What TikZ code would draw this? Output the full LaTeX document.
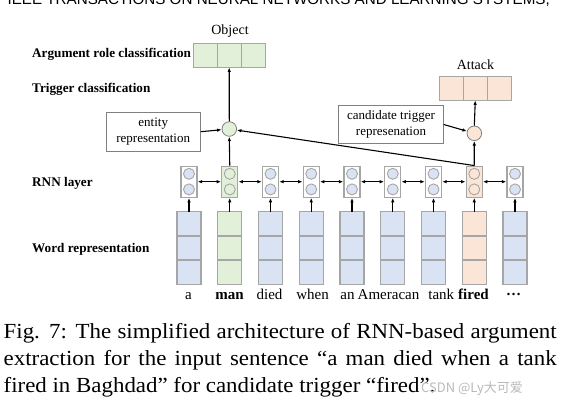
\documentclass[tikz,border=0pt]{standalone}
\usepackage{fontspec}
\setmainfont{Liberation Serif}
\newfontfamily\capfont[FakeStretch=1.065]{Liberation Serif}
\newfontfamily\headfont{Liberation Sans}
\newfontfamily\cjkfont{Noto Sans CJK SC}
\usetikzlibrary{positioning,arrows.meta,calc}
\definecolor{wordBlue}{HTML}{DAE3F3}
\definecolor{argGreen}{HTML}{E2F0D9}
\definecolor{trigOrange}{HTML}{FBE5D6}
\definecolor{cellEdge}{HTML}{A6A6A6}
\newcommand{\moredots}{\raisebox{3.5pt}{\textbf{…}}}

\begin{document}
\begin{tikzpicture}[x=1pt, y=-1pt,
    vec/.style={draw=cellEdge, line width=1.3pt, minimum width=24pt, minimum height=24.2pt, inner sep=0pt, outer sep=0pt},
    rnn/.style={draw=cellEdge, line width=1.3pt, minimum width=16pt, minimum height=31pt, inner sep=0pt},
    unit/.style={circle, draw=cellEdge, line width=0.9pt, minimum size=11pt, inner sep=0pt},
    merge/.style={circle, draw=gray, line width=0.8pt, minimum size=14.6pt, inner sep=0pt},
    repr/.style={draw=gray, line width=0.8pt, align=center, inner sep=0pt, font=\fontsize{13}{15.5}\selectfont},
    layer/.style={anchor=base west, inner sep=0pt, font=\fontsize{13.2}{15}\selectfont\bfseries},
    word/.style={anchor=base, inner sep=0pt, font=\fontsize{15}{18}\selectfont},
    capline/.style={anchor=base west, inner sep=0pt, font=\capfont\fontsize{21.5}{27}\selectfont},
    tip/.style={-{Latex[length=4.5pt,width=3.5pt]}, line width=1.1pt},
    twotip/.style={{Latex[length=4.5pt,width=3.5pt]}-{Latex[length=4.5pt,width=3.5pt]}, line width=1.1pt}]

  \useasboundingbox (0,0) rectangle (561,402);
  \begin{scope}
    \clip (0,0) rectangle (561,402);
    \node[anchor=base east, inner sep=0pt, font=\headfont\fontsize{15.2}{18}\selectfont] (header) at (550,4) {IEEE TRANSACTIONS ON NEURAL NETWORKS AND LEARNING SYSTEMS,};
  \end{scope}

  \node[layer] (argLbl) at (32,57.7) {Argument role classification};
  \node[layer] (trgLbl) at (32,92.3) {Trigger classification};
  \node[layer] (rnnLbl) at (32,186) {RNN layer};
  \node[layer] (wrdLbl) at (32,252.3) {Word representation};

  \foreach \i/\col/\rf in {1/wordBlue/white,2/argGreen/argGreen,3/wordBlue/white,4/wordBlue/white,5/wordBlue/white,6/wordBlue/white,7/wordBlue/white,8/trigOrange/trigOrange,9/wordBlue/white} {
    \pgfmathsetmacro{\cx}{189+40.75*(\i-1)}
    \node[vec, fill=\col] (vt\i) at (\cx,223.8) {};
    \node[vec, fill=\col, below=0pt of vt\i] (vm\i) {};
    \node[vec, fill=\col, below=0pt of vm\i] (vb\i) {};
    \node[rnn, fill=\rf] (r\i) at (\cx,181.7) {};
    \node[unit, fill=\col] (ru\i) at (\cx,173.8) {};
    \node[unit, fill=\col] (rd\i) at (\cx,189.4) {};
    \draw[tip] (vt\i.north) -- (r\i.south);
  }
  \foreach \i [evaluate=\i as \j using int(\i+1)] in {1,...,8}
    \draw[twotip] (r\i.east) -- (r\j.west);

  \foreach \w/\x/\n in {a/188.5/1, \textbf{man}/229.5/2, died/269.5/3, when/312.5/4, an/347.5/5, Ameracan/388.5/6, tank/441.3/7, \textbf{fired}/473.5/8, \moredots/513.5/9}
    \node[word] (w\n) at (\x,299) {\w};

  % argument side
  \node[vec, fill=argGreen] (obj2) at (229.2,55.3) {};
  \node[vec, fill=argGreen, left=0pt of obj2] (obj1) {};
  \node[vec, fill=argGreen, right=0pt of obj2] (obj3) {};
  \node[anchor=base, inner sep=0pt, font=\fontsize{14}{16}\selectfont] (objLbl) at (230,34) {Object};
  \node[merge, fill=argGreen] (ent) at (229.3,129) {};
  \node[repr, minimum width=94.3pt, minimum height=38.7pt] (entBox) at (153.2,131.7) {entity\\representation};
  \draw[tip] (r2.north) -- (ent.south);
  \draw[tip] (ent.north) -- (obj2.south);
  \draw[tip] (entBox.east) -- (ent);
  \draw[tip] (r8.north) -- (ent);

  % trigger side
  \node[vec, fill=trigOrange] (atk2) at (475.3,88.3) {};
  \node[vec, fill=trigOrange, left=0pt of atk2] (atk1) {};
  \node[vec, fill=trigOrange, right=0pt of atk2] (atk3) {};
  \node[anchor=base, inner sep=0pt, font=\fontsize{14}{16}\selectfont] (atkLbl) at (475.5,69.3) {Attack};
  \node[merge, fill=trigOrange] (trg) at (474.3,133.3) {};
  \node[repr, minimum width=104.6pt, minimum height=37.6pt] (candBox) at (391,124.5) {candidate trigger\\represenation};
  \draw[tip] (r8.north) -- (trg.south);
  \draw[tip] (trg.north) -- (atk2.south);
  \draw[tip] (candBox.east) -- (trg);

  \node[capline] (cap1) at (3.5,338.5) {\makebox[553pt][s]{Fig. 7: The simplified architecture of RNN-based argument}};
  \node[capline] (cap2) at (3.5,365.5) {\makebox[553pt][s]{extraction for the input sentence “a man died when a tank}};
  \node[capline] (cap3) at (3.5,392.5) {fired in Baghdad” for candidate trigger “fired”.};
  \node[anchor=base west, inner sep=0pt, text=gray!55, font=\cjkfont\fontsize{13}{15}\selectfont] (mark) at (421,392) {CSDN @Ly大可爱};
\end{tikzpicture}
\end{document}
